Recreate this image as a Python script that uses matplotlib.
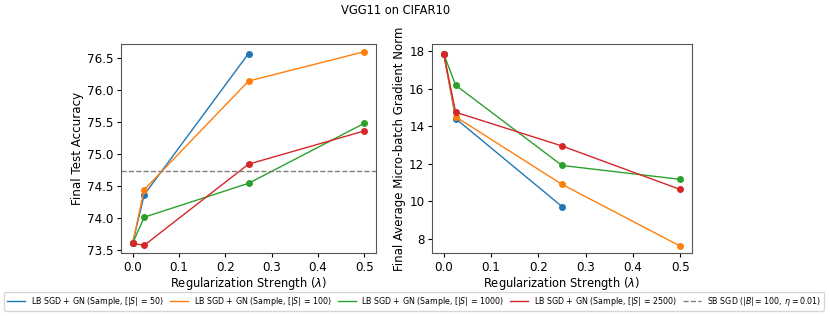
import matplotlib
matplotlib.use('Agg')
from matplotlib import pyplot as plt

lam = [0.0, 0.025, 0.25, 0.5]

acc_50 = [73.6, 74.36, 76.57]
acc_100 = [73.6, 74.44, 76.14, 76.6]
acc_1000 = [73.6, 74.01, 74.54, 75.48]
acc_2500 = [73.6, 73.57, 74.84, 75.36]
acc_sb = 74.73

gn_50 = [17.86, 14.42, 9.73]
gn_100 = [17.86, 14.52, 10.91, 7.62]
gn_1000 = [17.86, 16.2, 11.92, 11.18]
gn_2500 = [17.86, 14.76, 12.96, 10.64]

labels = ['LB SGD + GN (Sample, $[|S|$ = 50)',
          'LB SGD + GN (Sample, $[|S|$ = 100)',
          'LB SGD + GN (Sample, $[|S|$ = 1000)',
          'LB SGD + GN (Sample, $[|S|$ = 2500)']
sb_label = r'SB SGD ($|B| = 100,\ \eta = 0.01$)'
colors = ['tab:blue', 'tab:orange', 'tab:green', 'tab:red']

fig = plt.figure(figsize=(8.3, 3.16), dpi=100)
ax1 = fig.add_axes([121/830, 63/316, 255/830, 209/316])
ax2 = fig.add_axes([432/830, 63/316, 260/830, 209/316])

accs = [acc_50, acc_100, acc_1000, acc_2500]
gns = [gn_50, gn_100, gn_1000, gn_2500]
handles = []
for a, g, lab, c in zip(accs, gns, labels, colors):
    h, = ax1.plot(lam[:len(a)], a, '-', color=c, lw=1, label=lab)
    ax1.plot(lam[:len(a)], a, 'o', color=c, ms=4)
    ax2.plot(lam[:len(g)], g, '-', color=c, lw=1)
    ax2.plot(lam[:len(g)], g, 'o', color=c, ms=4)
    handles.append(h)
hsb = ax1.axhline(acc_sb, color='gray', ls='--', lw=1, label=sb_label)
handles.append(hsb)

ax1.set_yticks([73.5, 74.0, 74.5, 75.0, 75.5, 76.0, 76.5])
ax1.set_ylim(73.45, 76.72)
ax2.set_yticks([8, 10, 12, 14, 16, 18])
ax2.set_ylim(7.25, 18.4)
for ax in (ax1, ax2):
    ax.set_xticks([0.0, 0.1, 0.2, 0.3, 0.4, 0.5])
    ax.set_xlim(-0.025, 0.525)
    ax.tick_params(labelsize=8.6, length=3, pad=2.5)
    ax.set_xlabel(r'Regularization Strength ($\lambda$)', fontsize=8.3, labelpad=1)
    for s in ax.spines.values():
        s.set_color('#555555')
ax1.set_ylabel('Final Test Accuracy', fontsize=8.6, labelpad=2)
ax2.set_ylabel('Final Average Micro-batch Gradient Norm', fontsize=8.5, labelpad=2)

fig.text(396/830, 1 - 11/316, 'VGG11 on CIFAR10', ha='center', va='center', fontsize=8.3)
fig.legend(handles=handles, loc='lower left', ncol=5, mode='expand',
           bbox_to_anchor=(4/830, 5/316, 820/830, 14/316), fontsize=5.7,
           handlelength=2.3, handletextpad=0.7, borderaxespad=0, borderpad=0.4,
           frameon=True)

plt.savefig('out.png', dpi=100)
